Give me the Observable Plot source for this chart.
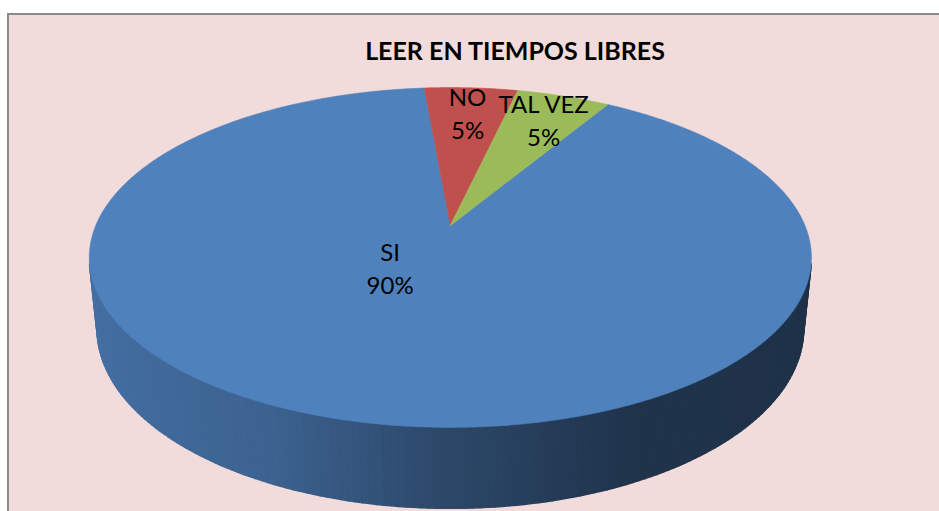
<!DOCTYPE html>
<html><head><meta charset="utf-8">
<script src="https://cdn.jsdelivr.net/npm/d3@7"></script>
<script src="https://cdn.jsdelivr.net/npm/@observablehq/plot@0.6"></script>
<style>
html,body{margin:0;padding:0;background:#fff;overflow:hidden;width:939px;height:511px}
#wrap{position:relative;width:939px;height:511px;overflow:hidden}
#area{position:absolute;left:7px;top:13px;width:1016px;height:600px;background:#F2DCDB;border:2px solid #8a8a8a;box-sizing:border-box}
#title{position:absolute;left:7px;top:39px;width:1016px;text-align:center;font:bold 25px Lato,sans-serif;line-height:22px;color:#000}
#plot{position:absolute;left:0;top:0}
</style></head>
<body>
<div id="wrap"><div id="area"></div><div id="title">LEER EN TIEMPOS LIBRES</div><div id="plot"></div></div>
<script>
// ---- data ----
const categories = ["SI", "NO", "TAL VEZ"];
const values = [90, 5, 5];
const valueLabels = ["90%", "5%", "5%"];
const sliceColors = ["#4F81BD", "#C0504D", "#9BBB59"];

// ---- 3D view ----
const deg = Math.PI / 180;
const rotation = 31 * deg;
const elev = 27 * deg, S = Math.sin(elev), C = Math.cos(elev);
const dist = 4.733, focal = 1708.6, thick = 0.223;
function project(a, r, z) {
  const X = r * Math.sin(a), Y = r * Math.cos(a);
  const up = Y * S + z * C, depth = Y * C - z * S;
  const k = focal / (dist + depth);
  return {x: X * k, y: up * k, depth};
}

const table = categories.map((c, i) => ({cat: c, value: values[i], label: valueLabels[i], color: sliceColors[i]}));
const arcs = d3.pie().sort(null).value(d => d.value).startAngle(rotation).endAngle(rotation + 2 * Math.PI)(table);

// top faces
const topPts = [];
arcs.forEach((a, i) => {
  const p0 = project(0, 0, 0);
  topPts.push({id: "t" + i, cat: a.data.cat, x: p0.x, y: p0.y});
  const n = Math.max(2, Math.ceil((a.endAngle - a.startAngle) / (0.5 * deg)));
  for (let k = 0; k <= n; k++) {
    const ang = a.startAngle + (a.endAngle - a.startAngle) * k / n;
    const p = project(ang, 1, 0);
    topPts.push({id: "t" + i, cat: a.data.cat, x: p.x, y: p.y});
  }
});

// side wall strips (front-facing only)
const shade = d3.scaleLinear().domain([-1, -0.42, 0, 0.42, 1]).range([0.87, 0.76, 0.55, 0.40, 0.38]).clamp(true);
const sidePts = [];
const step = 1 * deg;
const strips = [];
for (let a = 0; a < 2 * Math.PI; a += step) {
  const mid = a + step / 2;
  if (Math.cos(mid) >= -1 / (dist * C) + 0.02) continue;
  const slice = arcs.find(s => {
    const m = ((mid - s.startAngle) % (2 * Math.PI) + 2 * Math.PI) % (2 * Math.PI);
    return m <= s.endAngle - s.startAngle;
  });
  const base = d3.rgb(slice.data.color);
  const f = shade(Math.sin(mid));
  const col = d3.rgb(base.r * f, base.g * f, base.b * f).formatHex();
  const e = a + step * 1.0;
  const q = [project(a, 1, 0), project(e, 1, 0), project(e, 1, -thick), project(a, 1, -thick)];
  strips.push({depth: project(mid, 1, -thick / 2).depth, q, col, id: "s" + a.toFixed(4)});
}
strips.sort((a, b) => b.depth - a.depth);
strips.forEach(s => s.q.forEach(p => sidePts.push({id: s.id, col: s.col, x: p.x, y: p.y})));

// labels
const labelData = arcs.map(a => {
  const mid = (a.startAngle + a.endAngle) / 2;
  const big = a.data.value > 50;
  const p = big ? project(mid + 21 * deg, 0.29, 0) : project(mid, 0.8, 0);
  return {x: p.x, y: p.y, text: a.data.cat + "\n" + a.data.label};
});

const chart = Plot.plot({
  width: 939, height: 511, margin: 0,
  x: {domain: [-458, 498], axis: null},
  y: {domain: [-286, 225], axis: null},
  color: {domain: categories, range: sliceColors},
  style: {background: "transparent", overflow: "visible"},
  marks: [
    Plot.line(sidePts, {x: "x", y: "y", z: "id", fill: "col", stroke: "col", strokeWidth: 1.6, curve: "linear-closed"}),
    Plot.line(topPts, {x: "x", y: "y", z: "id", fill: "cat", stroke: "cat", strokeWidth: 0.6, curve: "linear-closed"}),
    Plot.text(labelData, {x: "x", y: "y", text: "text", fontSize: 24, lineHeight: 1.4, fontFamily: "Lato", fill: "#000"})
  ]
});
document.getElementById("plot").appendChild(chart);
</script>
</body></html>
